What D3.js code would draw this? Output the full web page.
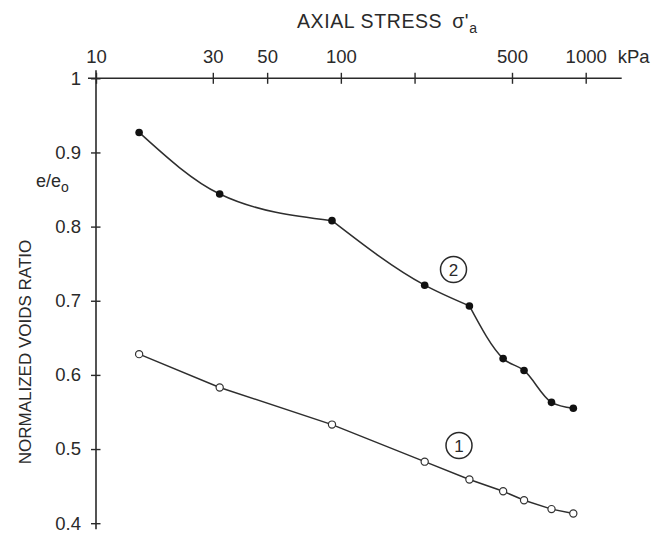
<!DOCTYPE html>
<html>
<head>
<meta charset="utf-8">
<script src="https://cdn.jsdelivr.net/npm/d3@7"></script>
<style>
  html, body { margin: 0; padding: 0; background: #fff; }
  svg { display: block; }
  text { font-family: "Liberation Sans", Arial, sans-serif; fill: #2a2a2a; }
</style>
</head>
<body>
<svg id="chart" width="666" height="534"></svg>
<script>
// Axial stress (kPa) at each loading step
const stress = [15, 32, 92, 220, 335, 460, 560, 725, 890];
// Normalized voids ratio e/e0, curve 1 (open markers)
const ratio1 = [0.628, 0.583, 0.533, 0.483, 0.459, 0.443, 0.431, 0.419, 0.413];
// Normalized voids ratio e/e0, curve 2 (filled markers)
const ratio2 = [0.927, 0.844, 0.808, 0.721, 0.693, 0.622, 0.606, 0.563, 0.555];
// Points where curve 2 changes slope abruptly (indices into stress)
const breaks2 = [2, 4];
// Axis ticks
const xTicks = [10, 30, 50, 100, 200, 500, 1000];
const xTickLabels = ["10", "30", "50", "100", "", "500", "1000"];
const yTicks = [0.4, 0.5, 0.6, 0.7, 0.8, 0.9, 1];
const yTickLabels = ["0.4", "0.5", "0.6", "0.7", "0.8", "0.9", "1"];

const svg = d3.select("#chart");
const ink = "#2a2a2a";

const x = d3.scaleLog().domain([10, 1000]).range([96, 585.7]);
const y = d3.scaleLinear().domain([0.4, 1]).range([523.2, 78.3]);

// Horizontal (top) axis
const xAxis = svg.append("g")
  .attr("transform", `translate(0,${y(1)})`)
  .call(d3.axisTop(x)
    .tickValues(xTicks)
    .tickFormat((d, i) => xTickLabels[i])
    .tickSizeInner(5.5).tickSizeOuter(0).tickPadding(10));
xAxis.select(".domain").remove();
xAxis.selectAll(".tick line").attr("y1", 5.5).attr("stroke", ink).attr("stroke-width", 1.4);
xAxis.selectAll(".tick text").attr("font-size", 18.5).attr("fill", ink);
xAxis.append("line")
  .attr("x1", x(10) - 8).attr("x2", x(1000) + 36)
  .attr("stroke", ink).attr("stroke-width", 1.6);
xAxis.append("text")
  .attr("x", x(1000) + 48).attr("y", -15.5)
  .attr("font-size", 18.5).attr("fill", ink)
  .text("kPa");

// Vertical (left) axis
const yAxis = svg.append("g")
  .attr("transform", `translate(${x(10)},0)`)
  .call(d3.axisLeft(y)
    .tickValues(yTicks)
    .tickFormat((d, i) => yTickLabels[i])
    .tickSizeInner(5).tickSizeOuter(0).tickPadding(10));
yAxis.select(".domain").remove();
yAxis.selectAll(".tick line").attr("x1", 4.5).attr("stroke", ink).attr("stroke-width", 1.4);
yAxis.selectAll(".tick text").attr("font-size", 18.5).attr("fill", ink);
yAxis.append("line")
  .attr("y1", y(1) - 8).attr("y2", y(0.4) + 6)
  .attr("stroke", ink).attr("stroke-width", 1.6);

// Axis titles
const title = svg.append("text")
  .attr("x", 297).attr("y", 28)
  .attr("font-size", 19.5).attr("letter-spacing", 0.6).attr("fill", ink);
title.append("tspan").text("AXIAL STRESS");
title.append("tspan").attr("dx", 10).text("σ'");
title.append("tspan").attr("font-size", 14).attr("dy", 5).text("a");

const eLabel = svg.append("text")
  .attr("x", 36).attr("y", 187)
  .attr("font-size", 18).attr("fill", ink);
eLabel.append("tspan").text("e/e");
eLabel.append("tspan").attr("font-size", 14).attr("dy", 5).text("o");

svg.append("text")
  .attr("transform", "translate(31,352) rotate(-90)")
  .attr("text-anchor", "middle")
  .attr("font-size", 17).attr("fill", ink)
  .text("NORMALIZED VOIDS RATIO");

// Curves: curve 1 is a straight polyline; curve 2 is drawn as smooth
// monotone pieces joined at its slope breaks
const pts1 = stress.map((s, i) => [s, ratio1[i]]);
const pts2 = stress.map((s, i) => [s, ratio2[i]]);
const line1 = d3.line().x(d => x(d[0])).y(d => y(d[1]));
const line2 = d3.line().curve(d3.curveMonotoneX).x(d => x(d[0])).y(d => y(d[1]));

const cuts = [0, ...breaks2, pts2.length - 1];
const pieces2 = d3.pairs(cuts).map(([a, b]) => pts2.slice(a, b + 1));

svg.append("path").datum(pts1).attr("d", line1)
  .attr("fill", "none").attr("stroke", "#2e2e2e").attr("stroke-width", 1.5);
svg.append("g").selectAll("path").data(pieces2).join("path")
  .attr("d", line2)
  .attr("fill", "none").attr("stroke", "#2e2e2e").attr("stroke-width", 1.5);

svg.append("g").selectAll("circle").data(pts1).join("circle")
  .attr("cx", d => x(d[0])).attr("cy", d => y(d[1])).attr("r", 3.6)
  .attr("fill", "#fff").attr("stroke", "#333").attr("stroke-width", 1.2);
svg.append("g").selectAll("circle").data(pts2).join("circle")
  .attr("cx", d => x(d[0])).attr("cy", d => y(d[1])).attr("r", 3.8)
  .attr("fill", "#111");

// Curve identifiers
const tags = [
  { label: "1", cx: 459, cy: 445.5 },
  { label: "2", cx: 453.5, cy: 269.5 }
];
const tg = svg.append("g").selectAll("g").data(tags).join("g")
  .attr("transform", d => `translate(${d.cx},${d.cy})`);
tg.append("circle").attr("r", 13).attr("fill", "none")
  .attr("stroke", ink).attr("stroke-width", 1.5);
tg.append("text").attr("text-anchor", "middle").attr("dy", "0.36em")
  .attr("font-size", 17).attr("fill", ink).text(d => d.label);
</script>
</body>
</html>
